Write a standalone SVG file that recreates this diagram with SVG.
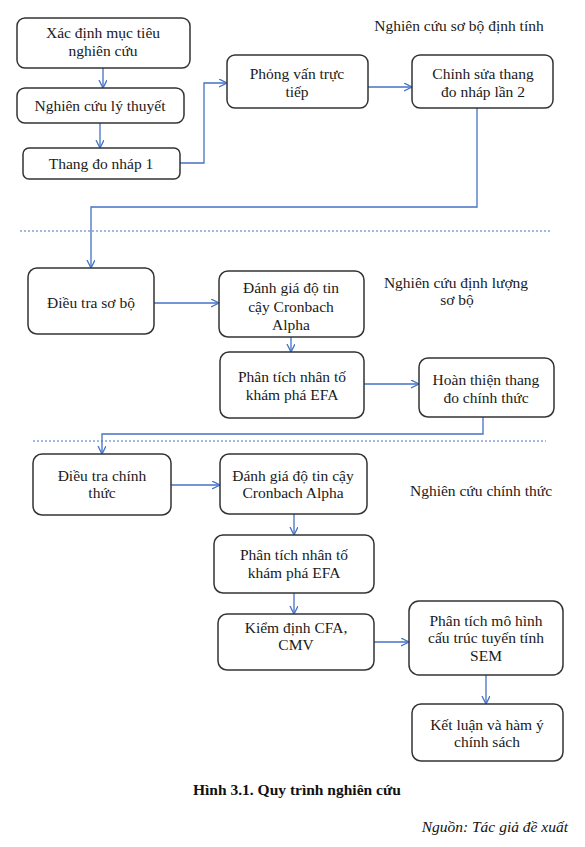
<svg xmlns="http://www.w3.org/2000/svg" width="585" height="847" viewBox="0 0 585 847">
<defs>
<style>
.box{fill:#fff;stroke:#333;stroke-width:1.5}
.t{font-family:"Liberation Serif","Times New Roman",serif;font-size:15.5px;fill:#1a1a1a;text-anchor:middle}
.lbl{font-family:"Liberation Serif","Times New Roman",serif;font-size:15.5px;fill:#1a1a1a;text-anchor:middle}
.c{fill:none;stroke:#4472C4;stroke-width:1.3}
.d{fill:none;stroke:#4472C4;stroke-width:1;stroke-dasharray:2,2}
</style>
<marker id="ah" markerUnits="userSpaceOnUse" markerWidth="10" markerHeight="10" refX="8" refY="4" orient="auto">
<path d="M0,0 L8,4 L0,8" fill="none" stroke="#4472C4" stroke-width="1.3"/>
</marker>
</defs>
<rect width="585" height="847" fill="#fff"/>

<g id="dividers">
<line class="d" x1="20" y1="231" x2="551" y2="231"/>
<line class="d" x1="33" y1="441" x2="546" y2="441"/>
</g>

<g id="connectors">
<line class="c" x1="103" y1="68" x2="103" y2="88" marker-end="url(#ah)"/>
<line class="c" x1="100" y1="123" x2="100" y2="148" marker-end="url(#ah)"/>
<polyline class="c" points="180,163 204,163 204,83 227,83" marker-end="url(#ah)"/>
<line class="c" x1="368" y1="87" x2="412" y2="87" marker-end="url(#ah)"/>
<polyline class="c" points="477,108 477,207 91,207 91,268" marker-end="url(#ah)"/>
<line class="c" x1="154" y1="303" x2="219" y2="303" marker-end="url(#ah)"/>
<line class="c" x1="291" y1="337" x2="291" y2="352" marker-end="url(#ah)"/>
<line class="c" x1="364" y1="384" x2="419" y2="384" marker-end="url(#ah)"/>
<polyline class="c" points="483,417 483,434 102,434 102,454" marker-end="url(#ah)"/>
<line class="c" x1="171" y1="485" x2="220" y2="485" marker-end="url(#ah)"/>
<line class="c" x1="294" y1="514" x2="294" y2="535" marker-end="url(#ah)"/>
<line class="c" x1="294" y1="593" x2="294" y2="614" marker-end="url(#ah)"/>
<line class="c" x1="374" y1="642" x2="409" y2="642" marker-end="url(#ah)"/>
<line class="c" x1="486" y1="675" x2="486" y2="704" marker-end="url(#ah)"/>
</g>

<g id="n1"><rect class="box" x="17" y="18" width="173" height="50" rx="8"/>
<text class="t" x="103" y="38">Xác định mục tiêu</text><text class="t" x="103" y="56">nghiên cứu</text></g>
<g id="n2"><rect class="box" x="17" y="88" width="167" height="35" rx="8"/>
<text class="t" x="100" y="111">Nghiên cứu lý thuyết</text></g>
<g id="n3"><rect class="box" x="23" y="148" width="157" height="31" rx="6"/>
<text class="t" x="101" y="169">Thang đo nháp 1</text></g>
<g id="n4"><rect class="box" x="227" y="55" width="141" height="53" rx="8"/>
<text class="t" x="297" y="79">Phỏng vấn trực</text><text class="t" x="297" y="97">tiếp</text></g>
<g id="n5"><rect class="box" x="412" y="55" width="141" height="53" rx="8"/>
<text class="t" x="483" y="79">Chỉnh sửa thang</text><text class="t" x="483" y="97">đo nháp lần 2</text></g>
<g id="title1"><text class="lbl" x="459" y="31">Nghiên cứu sơ bộ định tính</text></g>

<g id="n6"><rect class="box" x="28" y="268" width="126" height="66" rx="9"/>
<text class="t" x="91" y="308">Điều tra sơ bộ</text></g>
<g id="n7"><rect class="box" x="219" y="271" width="145" height="66" rx="9"/>
<text class="t" x="291" y="293">Đánh giá độ tin</text><text class="t" x="291" y="312">cậy Cronbach</text><text class="t" x="291" y="330">Alpha</text></g>
<g id="n8"><rect class="box" x="220" y="352" width="144" height="66" rx="9"/>
<text class="t" x="292" y="382">Phân tích  nhân tố</text><text class="t" x="292" y="400">khám phá EFA</text></g>
<g id="n9"><rect class="box" x="419" y="358" width="135" height="59" rx="9"/>
<text class="t" x="486" y="385">Hoàn thiện thang</text><text class="t" x="486" y="403">đo chính thức</text></g>
<g id="title2"><text class="lbl" x="456" y="288">Nghiên cứu định lượng</text><text class="lbl" x="457" y="305">sơ bộ</text></g>

<g id="n10"><rect class="box" x="33" y="454" width="138" height="61" rx="9"/>
<text class="t" x="102" y="481">Điều tra chính</text><text class="t" x="102" y="498">thức</text></g>
<g id="n11"><rect class="box" x="220" y="454" width="147" height="60" rx="9"/>
<text class="t" x="293" y="481">Đánh giá độ tin cậy</text><text class="t" x="293" y="498">Cronbach Alpha</text></g>
<g id="n12"><rect class="box" x="214" y="535" width="160" height="58" rx="9"/>
<text class="t" x="294" y="560">Phân tích  nhân tố</text><text class="t" x="294" y="578">khám phá EFA</text></g>
<g id="n13"><rect class="box" x="218" y="614" width="156" height="56" rx="9"/>
<text class="t" x="296" y="633">Kiểm định CFA,</text><text class="t" x="296" y="650">CMV</text></g>
<g id="n14"><rect class="box" x="409" y="601" width="154" height="74" rx="10"/>
<text class="t" x="486" y="626">Phân tích  mô hình</text><text class="t" x="486" y="643">cấu trúc tuyến tính</text><text class="t" x="486" y="661">SEM</text></g>
<g id="n15"><rect class="box" x="412" y="704" width="151" height="57" rx="9"/>
<text class="t" x="487" y="730">Kết  luận và hàm ý</text><text class="t" x="487" y="747">chính sách</text></g>
<g id="title3"><text class="lbl" x="481" y="496">Nghiên cứu chính thức</text></g>

<g id="caption">
<text x="193" y="795" style="font-family:'Liberation Serif','Times New Roman',serif;font-size:15.5px;font-weight:bold;fill:#111">Hình 3.1. Quy trình nghiên cứu</text>
<text x="568" y="832" style="font-family:'Liberation Serif','Times New Roman',serif;font-size:15.5px;font-style:italic;fill:#111;text-anchor:end">Nguồn: Tác giả đề xuất</text>
</g>
</svg>
